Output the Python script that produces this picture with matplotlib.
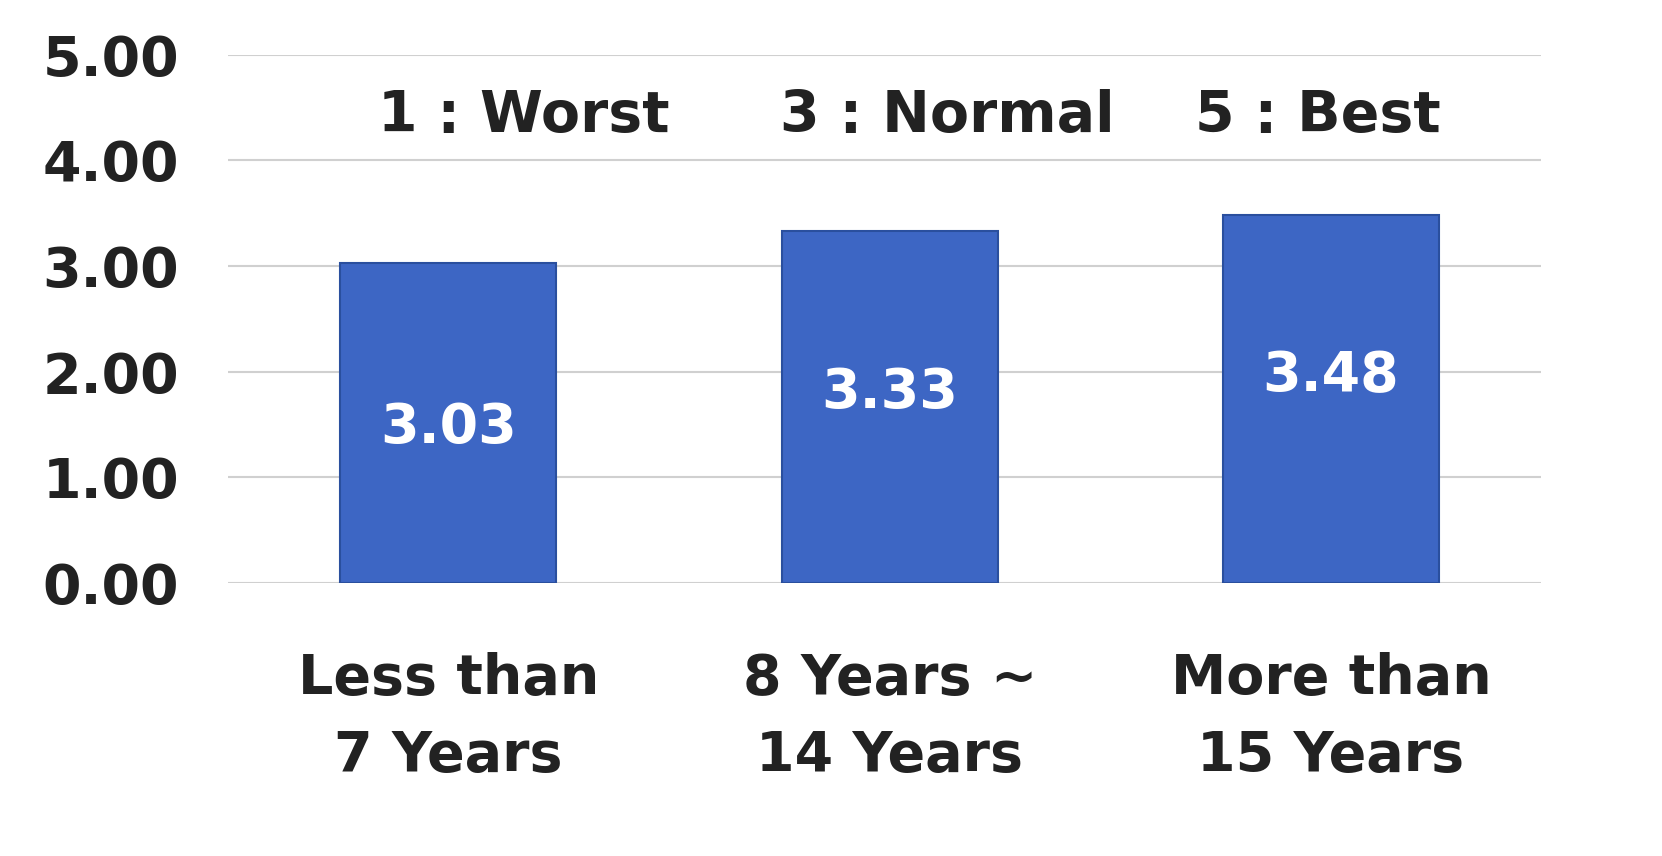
import matplotlib
matplotlib.use("Agg")
import matplotlib.pyplot as plt

categories = ["Less than\n7 Years", "8 Years ~\n14 Years", "More than\n15 Years"]
values = [3.03, 3.33, 3.48]
scale_labels = ["1 : Worst", "3 : Normal", "5 : Best"]
yticks = [0, 1, 2, 3, 4, 5]

fig = plt.figure(figsize=(16.62, 8.56), dpi=100)
ax = fig.add_axes([0.137, 0.319, 0.79, 0.617])
x = list(range(len(categories)))
ax.bar(x, values, width=0.49, color="#3d66c4", edgecolor="#2a4f9e", linewidth=1.5, zorder=3)
for xi, v in zip(x, values):
    ax.text(xi, v / 2 - 0.05 + (v - 3.03) * 0.6, f"{v:.2f}", ha="center", va="center", color="white",
            fontsize=40, fontweight="bold", zorder=4)
for xi, s in zip([0.17, 1.13, 1.97], scale_labels):
    ax.text(xi, 4.42, s, ha="center", va="center", color="#222222", fontsize=41, fontweight="bold")
ax.set_xlim(-0.5, 2.475)
ax.set_ylim(0, 5)
ax.set_yticks(yticks)
ax.set_yticklabels([f"{t:.2f}" for t in yticks], fontsize=40, fontweight="bold", color="#222222")
ax.set_xticks(x)
ax.set_xticklabels(categories, fontsize=40, fontweight="bold", color="#222222", linespacing=1.55)
ax.tick_params(axis="y", length=0, pad=35)
ax.tick_params(axis="x", length=0, pad=50)
ax.grid(axis="y", color="#d0d0d0", linewidth=1.5, zorder=0)
for s in ax.spines.values():
    s.set_visible(False)
fig.savefig("out.png", dpi=100)
